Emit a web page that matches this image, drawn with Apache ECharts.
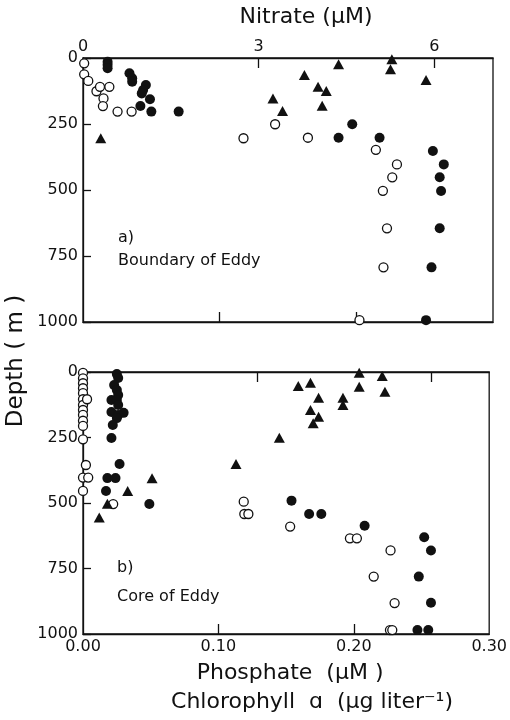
<!DOCTYPE html>
<html>
<head>
<meta charset="utf-8">
<script src="https://cdn.jsdelivr.net/npm/echarts@6.0.0/dist/echarts.min.js"></script>
<style>
html,body{margin:0;padding:0;background:#fff;}
#chart{width:510px;height:720px;}
</style>
</head>
<body>
<div id="chart"></div>
<script>
// ---- tick values ----
const depthTicks = [0, 250, 500, 750, 1000];
const nitrateLabels = [0, 3, 6];
const nitrateTicks = [3, 6];
const phosphateLabels = [0, 0.1, 0.2, 0.3];
const phosphateTicks = [0.1, 0.2];

// ---- a) Boundary of Eddy ----  [value, depth m]
const aNitrate = [
  [0.02, 20], [0.02, 62], [0.09, 87], [0.23, 126], [0.29, 109], [0.45, 109],
  [0.35, 153], [0.34, 182], [0.59, 203], [0.83, 203], [2.74, 304], [3.28, 251],
  [3.84, 302], [5.00, 348], [5.36, 403], [5.28, 452], [5.12, 503], [5.19, 645],
  [5.13, 793], [4.72, 993]
];
const aPhosphate = [
  [0.018, 14], [0.018, 26], [0.018, 39], [0.034, 58], [0.036, 77], [0.036, 90],
  [0.046, 102], [0.044, 121], [0.043, 134], [0.049, 156], [0.042, 182], [0.050, 203],
  [0.070, 203], [0.197, 251], [0.187, 302], [0.217, 302], [0.256, 352], [0.264, 403],
  [0.261, 452], [0.262, 504], [0.261, 645], [0.255, 793], [0.251, 993]
];
const aChlorophyll = [
  [0.013, 304], [0.139, 153], [0.146, 201], [0.162, 64], [0.172, 109], [0.178, 125],
  [0.175, 181], [0.187, 24], [0.226, 5], [0.225, 43], [0.251, 83]
];

// ---- b) Core of Eddy ----
const bNitrate = [
  [0, 3], [0, 24], [0, 43], [0, 62], [0, 81], [0, 104], [0, 126], [0, 145], [0, 164],
  [0, 186], [0, 206], [0.07, 104], [0, 257], [0.05, 355], [0, 403], [0.09, 403],
  [0, 454], [0.52, 504], [2.77, 495], [2.78, 542], [2.85, 542], [3.57, 590],
  [4.60, 635], [4.72, 635], [5.30, 681], [5.01, 781], [5.37, 882], [5.29, 985], [5.33, 985]
];
const bPhosphate = [
  [0.025, 8], [0.026, 23], [0.023, 50], [0.025, 69], [0.026, 88], [0.021, 107],
  [0.025, 107], [0.026, 126], [0.021, 153], [0.030, 156], [0.026, 164], [0.025, 176],
  [0.022, 202], [0.021, 252], [0.027, 351], [0.018, 405], [0.024, 405], [0.017, 454],
  [0.049, 504], [0.154, 491], [0.167, 542], [0.176, 542], [0.208, 587], [0.252, 631],
  [0.257, 681], [0.248, 781], [0.257, 881], [0.247, 985], [0.255, 985]
];
const bChlorophyll = [
  [0.051, 406], [0.033, 454], [0.018, 503], [0.012, 555], [0.113, 351], [0.145, 251],
  [0.159, 53], [0.168, 41], [0.174, 98], [0.168, 145], [0.174, 171], [0.170, 196],
  [0.192, 98], [0.192, 126], [0.204, 3], [0.204, 56], [0.221, 15], [0.223, 75]
];

const FONT = 'DejaVu Sans';
const INK = '#111';
const chart = echarts.init(document.getElementById('chart'), null, {renderer: 'canvas'});

function yAx(gi) {
  return {
    type: 'value', gridIndex: gi, min: 0, max: 1000, interval: 250, inverse: true,
    axisLine: {show: true, lineStyle: {color: INK, width: 1.3}},
    axisTick: {show: true, inside: true, length: 8, lineStyle: {color: INK, width: 1.3}},
    axisLabel: {show: true, color: INK, fontFamily: FONT, fontSize: 16, margin: 5, customValues: depthTicks,
      formatter: v => String(v)},
    splitLine: {show: false}
  };
}
function nitAx(gi, labels) {
  const a = {
    type: 'value', gridIndex: gi, position: 'top', min: 0, max: 7,
    axisLine: {show: true, lineStyle: {color: INK, width: 1.3}},
    axisTick: {show: true, inside: true, length: 10, customValues: nitrateTicks, lineStyle: {color: INK, width: 1.3}},
    axisLabel: {show: labels, color: INK, fontFamily: FONT, fontSize: 16, margin: 3, customValues: nitrateLabels,
      formatter: v => String(v)},
    splitLine: {show: false}
  };
  if (labels) {
    a.name = 'Nitrate (\u00b5M)';
    a.nameLocation = 'middle';
    a.nameGap = 30;
    a.nameTextStyle = {color: INK, fontFamily: FONT, fontSize: 22, padding: [0, 0, 0, 36]};
  }
  return a;
}
function phoAx(gi, labels) {
  const a = {
    type: 'value', gridIndex: gi, position: 'bottom', min: 0, max: 0.3,
    axisLine: {show: true, lineStyle: {color: INK, width: 1.3}},
    axisTick: {show: true, inside: true, length: 10, customValues: phosphateTicks, lineStyle: {color: INK, width: 1.3}},
    axisLabel: {show: labels, color: INK, fontFamily: FONT, fontSize: 16, margin: 5, customValues: phosphateLabels,
      formatter: v => Number(v).toFixed(2)},
    splitLine: {show: false}
  };
  if (labels) {
    a.name = 'Phosphate  (\u00b5M )';
    a.nameLocation = 'middle';
    a.nameGap = 28;
    a.nameTextStyle = {color: INK, fontFamily: FONT, fontSize: 22, padding: [0, 0, 0, 8]};
  }
  return a;
}

const openStyle = {color: '#fff', borderColor: INK, borderWidth: 1.3, opacity: 1};
const fillStyle = {color: INK, opacity: 1};

function sc(data, xi, yi, symbol, size, style, z) {
  return {type: 'scatter', xAxisIndex: xi, yAxisIndex: yi, data: data, symbol: symbol,
    symbolSize: size, itemStyle: style, z: z, clip: false, animation: false,
    emphasis: {disabled: true}};
}

const option = {
  animation: false,
  backgroundColor: '#fff',
  grid: [
    {left: 83, right: 17, top: 58, height: 264, show: true, borderColor: INK, borderWidth: 1.3, backgroundColor: 'transparent'},
    {left: 83, right: 18, top: 372, height: 262, show: true, borderColor: INK, borderWidth: 1.3, backgroundColor: 'transparent'}
  ],
  xAxis: [nitAx(0, true), phoAx(0, false), nitAx(1, false), phoAx(1, true)],
  yAxis: [yAx(0), yAx(1)],
  series: [
    sc(aNitrate, 0, 0, 'circle', 9, openStyle, 3),
    sc(aPhosphate, 1, 0, 'circle', 10, fillStyle, 4),
    sc(aChlorophyll, 1, 0, 'triangle', [11, 10], fillStyle, 4),
    sc(bNitrate, 2, 1, 'circle', 9, openStyle, 3),
    sc(bPhosphate, 3, 1, 'circle', 10, fillStyle, 4),
    sc(bChlorophyll, 3, 1, 'triangle', [11, 10], fillStyle, 4)
  ],
  graphic: [
    {type: 'text', x: 118, y: 238, style: {text: 'a)', fontFamily: FONT, fontSize: 16, fill: INK, verticalAlign: 'middle'}},
    {type: 'text', x: 118, y: 261, style: {text: 'Boundary of Eddy', fontFamily: FONT, fontSize: 16, fill: INK, verticalAlign: 'middle'}},
    {type: 'text', x: 117, y: 568, style: {text: 'b)', fontFamily: FONT, fontSize: 16, fill: INK, verticalAlign: 'middle'}},
    {type: 'text', x: 117, y: 597, style: {text: 'Core of Eddy', fontFamily: FONT, fontSize: 16, fill: INK, verticalAlign: 'middle'}},
    {type: 'text', x: 16, y: 361, rotation: Math.PI / 2,
      style: {text: 'Depth ( m )', fontFamily: FONT, fontSize: 23, fill: INK, align: 'center', verticalAlign: 'middle'}},
    {type: 'text', x: 312, y: 702,
      style: {text: 'Chlorophyll  \u0251  (\u00b5g liter\u207b\u00b9)', fontFamily: FONT, fontSize: 22, fill: INK,
        align: 'center', verticalAlign: 'middle'}}
  ]
};
chart.setOption(option);
</script>
</body>
</html>
